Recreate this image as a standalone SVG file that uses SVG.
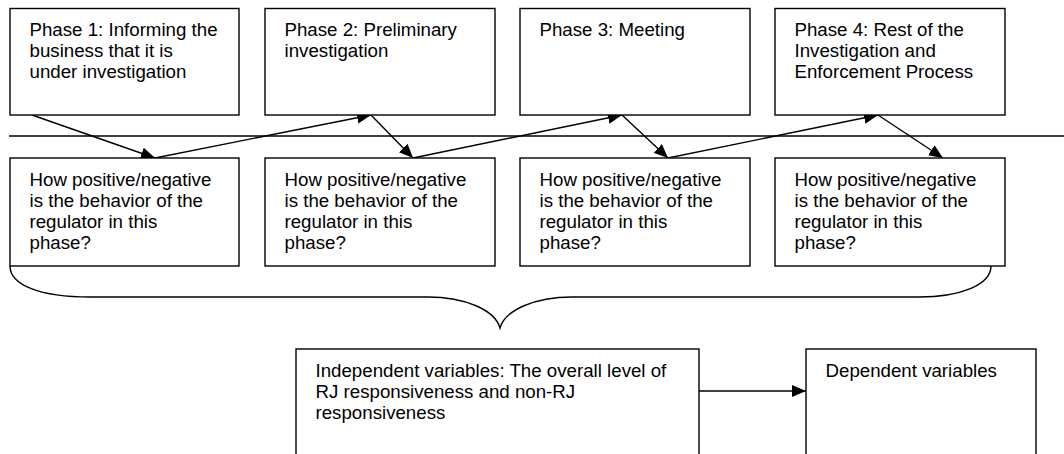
<svg xmlns="http://www.w3.org/2000/svg" width="1064" height="454" viewBox="0 0 1064 454">
<defs>
<marker id="ah" markerUnits="userSpaceOnUse" markerWidth="16" markerHeight="12" refX="14" refY="6" orient="auto">
<path d="M0,0 L14,6 L0,12 Z" fill="#000"/>
</marker>
<style>
.box{fill:#fff;stroke:#000;stroke-width:1.4}
.t{font-family:"Liberation Sans",Arial,sans-serif;font-size:18.7px;fill:#000}
.c{fill:none;stroke:#000;stroke-width:1.4}
.a{fill:none;stroke:#000;stroke-width:1.4;marker-end:url(#ah)}
</style>
</defs>
<rect width="1064" height="454" fill="#fff"/>
<g id="connectors">
<line class="c" x1="9" y1="136" x2="1064" y2="136"/>
<line class="a" x1="32" y1="115" x2="155" y2="158"/>
<line class="a" x1="155" y1="158" x2="371" y2="115"/>
<line class="a" x1="371" y1="115" x2="413" y2="158"/>
<line class="a" x1="413" y1="158" x2="622" y2="115"/>
<line class="a" x1="622" y1="115" x2="668" y2="158"/>
<line class="a" x1="668" y1="158" x2="878" y2="115"/>
<line class="a" x1="878" y1="115" x2="943" y2="158"/>
<path class="c" d="M10,266 C10,285 40,297 90,297 L428,297 C465,297 495,310 500,328 C505,310 535,297 572,297 L919,297 C960,297 991,285 991,266"/>
<line class="a" x1="699" y1="391" x2="806" y2="391"/>
</g>
<g id="phase1">
<rect class="box" x="10" y="8.5" width="229" height="106.5"/>
<text class="t" x="29.5" y="36">Phase 1: Informing the</text>
<text class="t" x="29.5" y="57">business that it is</text>
<text class="t" x="29.5" y="78">under investigation</text>
</g>
<g id="phase2">
<rect class="box" x="265" y="8.5" width="230" height="106.5"/>
<text class="t" x="284.5" y="36">Phase 2: Preliminary</text>
<text class="t" x="284.5" y="57">investigation</text>
</g>
<g id="phase3">
<rect class="box" x="520" y="8.5" width="230" height="106.5"/>
<text class="t" x="539.5" y="36">Phase 3: Meeting</text>
</g>
<g id="phase4">
<rect class="box" x="775" y="8.5" width="230" height="106.5"/>
<text class="t" x="794.5" y="36">Phase 4: Rest of the</text>
<text class="t" x="794.5" y="57">Investigation and</text>
<text class="t" x="794.5" y="78">Enforcement Process</text>
</g>
<g id="q1">
<rect class="box" x="10" y="158" width="229" height="108"/>
<text class="t" x="29.5" y="185.5">How positive/negative</text>
<text class="t" x="29.5" y="206.5">is the behavior of the</text>
<text class="t" x="29.5" y="227.5">regulator in this</text>
<text class="t" x="29.5" y="248.5">phase?</text>
</g>
<g id="q2">
<rect class="box" x="265" y="158" width="230" height="108"/>
<text class="t" x="284.5" y="185.5">How positive/negative</text>
<text class="t" x="284.5" y="206.5">is the behavior of the</text>
<text class="t" x="284.5" y="227.5">regulator in this</text>
<text class="t" x="284.5" y="248.5">phase?</text>
</g>
<g id="q3">
<rect class="box" x="520" y="158" width="230" height="108"/>
<text class="t" x="539.5" y="185.5">How positive/negative</text>
<text class="t" x="539.5" y="206.5">is the behavior of the</text>
<text class="t" x="539.5" y="227.5">regulator in this</text>
<text class="t" x="539.5" y="248.5">phase?</text>
</g>
<g id="q4">
<rect class="box" x="775" y="158" width="230" height="108"/>
<text class="t" x="794.5" y="185.5">How positive/negative</text>
<text class="t" x="794.5" y="206.5">is the behavior of the</text>
<text class="t" x="794.5" y="227.5">regulator in this</text>
<text class="t" x="794.5" y="248.5">phase?</text>
</g>
<g id="independent">
<rect class="box" x="296" y="349" width="403" height="130"/>
<text class="t" x="315.5" y="376.5">Independent variables: The overall level of</text>
<text class="t" x="315.5" y="397.5">RJ responsiveness and non-RJ</text>
<text class="t" x="315.5" y="418.5">responsiveness</text>
</g>
<g id="dependent">
<rect class="box" x="806" y="349" width="230" height="130"/>
<text class="t" x="825.5" y="376.5">Dependent variables</text>
</g>
</svg>
